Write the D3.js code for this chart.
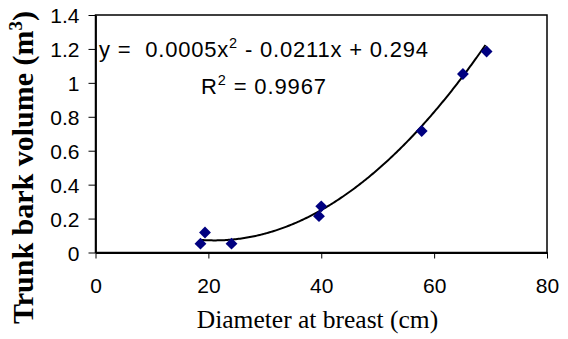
<!DOCTYPE html>
<html><head><meta charset="utf-8">
<script src="https://cdn.jsdelivr.net/npm/d3@7"></script>
<style>body{margin:0;background:#fff}svg{display:block}</style>
</head><body>
<script>
const diameter = [18.6, 19.4, 24.1, 39.6, 40.0, 57.8, 65.1, 69.3];
const volume   = [0.052, 0.118, 0.052, 0.214, 0.272, 0.716, 1.052, 1.185];
const trendCoef = [0.0005, -0.0211, 0.294];
const rSquared = 0.9967;
const xTicks = [0, 20, 40, 60, 80];
const yTicks = [0, 0.2, 0.4, 0.6, 0.8, 1, 1.2, 1.4];

const W = 568, H = 339;
const SANS = "Liberation Sans, Arial, sans-serif";
const SERIF = "Liberation Serif, Times New Roman, serif";
const svg = d3.select("body").append("svg").attr("width", W).attr("height", H);
const x = d3.scaleLinear().domain([0, 80]).range([95.5, 547]);
const y = d3.scaleLinear().domain([0, 1.4]).range([252.5, 15]);

// plot box
svg.append("rect").attr("x", x(0)).attr("y", y(1.4)).attr("width", x(80)-x(0)).attr("height", y(0)-y(1.4))
  .attr("fill", "none").attr("stroke", "#000").attr("stroke-width", 1.5);

const xAxis = svg.append("g").attr("transform", `translate(0,${y(0)})`)
  .call(d3.axisBottom(x).tickValues(xTicks).tickFormat(d3.format("d")).tickSizeInner(6).tickSizeOuter(0).tickPadding(20));
const yAxis = svg.append("g").attr("transform", `translate(${x(0)},0)`)
  .call(d3.axisLeft(y).tickValues(yTicks).tickFormat(d => String(+d.toFixed(1))).tickSizeInner(7).tickSizeOuter(0).tickPadding(9));
[xAxis, yAxis].forEach(g => {
  g.select(".domain").attr("stroke", "#000").attr("stroke-width", 1.8);
  g.selectAll(".tick line").attr("stroke", "#000").attr("stroke-width", 1);
  g.selectAll("text").attr("font-family", SANS).attr("font-size", 21).attr("fill", "#000");
});
yAxis.selectAll("text").attr("dy", "0.36em");

// trendline
const xs = d3.range(d3.min(diameter), d3.max(diameter) + 0.01, 0.25);
const poly = v => trendCoef[0]*v*v + trendCoef[1]*v + trendCoef[2];
svg.append("path").datum(xs)
  .attr("d", d3.line().x(v => x(v)).y(v => y(poly(v))))
  .attr("fill", "none").attr("stroke", "#000").attr("stroke-width", 2);

// points
svg.append("g").selectAll("path").data(diameter).join("path")
  .attr("d", d3.symbol(d3.symbolSquare, 70)())
  .attr("transform", (d, i) => `translate(${x(d)},${y(volume[i])}) rotate(45)`)
  .attr("fill", "#000080");

// equation
const eq = svg.append("text").attr("x", 99).attr("y", 57)
  .attr("font-family", SANS).attr("font-size", 22).attr("fill", "#000")
  .attr("xml:space", "preserve").attr("textLength", 329).attr("lengthAdjust", "spacing");
eq.append("tspan").text(`y =  ${trendCoef[0]}x`);
eq.append("tspan").attr("dy", -9).attr("font-size", 14.5).text("2");
eq.append("tspan").attr("dy", 9).text(` - ${Math.abs(trendCoef[1])}x + ${trendCoef[2]}`);

const r2 = svg.append("text").attr("x", 201).attr("y", 93.5)
  .attr("font-family", SANS).attr("font-size", 22).attr("fill", "#000")
  .attr("textLength", 125).attr("lengthAdjust", "spacing");
r2.append("tspan").text("R");
r2.append("tspan").attr("dy", -9).attr("font-size", 14.5).text("2");
r2.append("tspan").attr("dy", 9).text(` = ${rSquared}`);

// axis titles
svg.append("text").attr("x", 317.5).attr("y", 328.3).attr("text-anchor", "middle")
  .attr("font-family", SERIF).attr("font-size", 25.5).attr("fill", "#000")
  .text("Diameter at breast (cm)");
const yt = svg.append("text").attr("transform", "translate(33.3,167.5) rotate(-90)").attr("text-anchor", "middle")
  .attr("font-family", SERIF).attr("font-weight", "bold").attr("font-size", 30).attr("fill", "#000");
yt.append("tspan").text("Trunk bark volume (m");
yt.append("tspan").attr("dy", -11).attr("font-size", 19).text("3");
yt.append("tspan").attr("dy", 11).text(")");
</script>
</body></html>
